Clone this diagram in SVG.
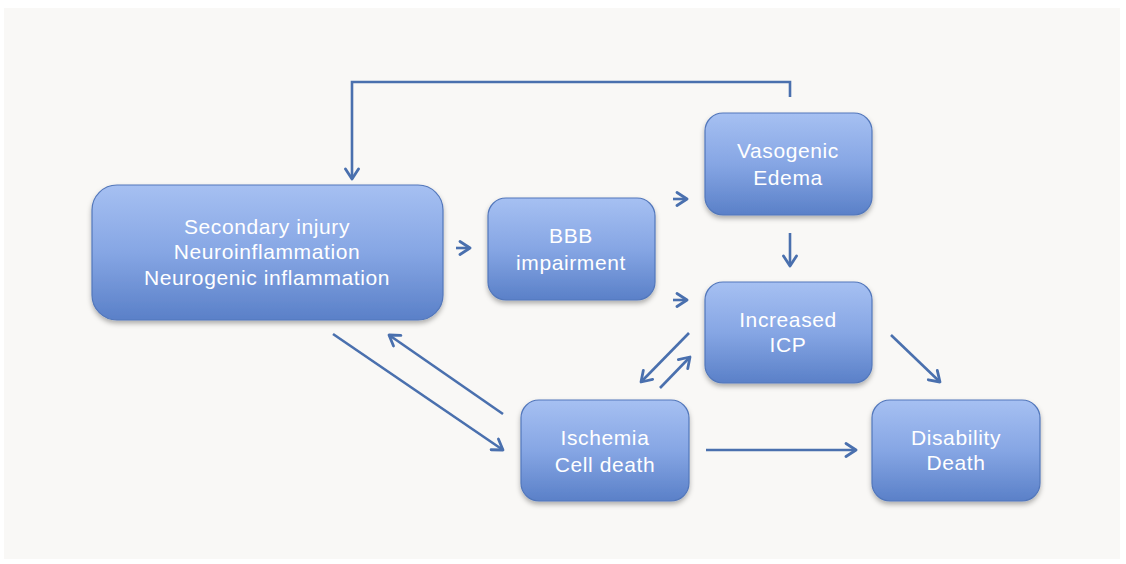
<svg xmlns="http://www.w3.org/2000/svg" width="1126" height="564" viewBox="0 0 1126 564">
<defs>
<linearGradient id="g" x1="0" y1="0" x2="0" y2="1">
<stop offset="0" stop-color="#a6c0f2"/>
<stop offset="0.5" stop-color="#86a6e4"/>
<stop offset="1" stop-color="#5a80c8"/>
</linearGradient>
<filter id="sh" x="-10%" y="-10%" width="120%" height="130%">
<feDropShadow dx="0" dy="3" stdDeviation="2.5" flood-color="#000" flood-opacity="0.3"/>
</filter>
<marker id="ah" viewBox="0 0 16 16" refX="13" refY="8" markerWidth="16" markerHeight="16" markerUnits="userSpaceOnUse" orient="auto">
<path d="M3,1.5 L13,8 L3,14.5" fill="none" stroke="#4a70ae" stroke-width="2.8" stroke-linecap="round" stroke-linejoin="round"/>
</marker>
<style>
.box{fill:url(#g);stroke:#5277bb;stroke-width:1.2;filter:url(#sh)}
.t{font-family:"Liberation Sans",Arial,sans-serif;font-size:21px;letter-spacing:0.6px;fill:#fff;text-anchor:middle}
.c{fill:none;stroke:#4a70ae;stroke-width:2.6;marker-end:url(#ah)}
</style>
</defs>
<rect x="0" y="0" width="1126" height="564" fill="#ffffff"/>
<rect x="4" y="8" width="1116" height="551" fill="#f9f8f6"/>
<g id="connectors">
<path class="c" d="M456,248 L470,248"/>
<path class="c" d="M673,199 L687,199"/>
<path class="c" d="M673,300 L687,300"/>
<path class="c" d="M790,97 V82 H352 V179"/>
<path class="c" d="M790,233 L790,266"/>
<path class="c" d="M891,335 L940,382"/>
<path class="c" d="M333,334 L503,450"/>
<path class="c" d="M503,414 L389,335"/>
<path class="c" d="M689,333 L641,382"/>
<path class="c" d="M660,388 L690,357"/>
<path class="c" d="M706,450 L856,450"/>
</g>
<g id="secondary">
<rect class="box" x="92" y="185" width="351" height="135" rx="25"/>
<text class="t" x="267" y="234">Secondary injury</text>
<text class="t" x="267" y="259">Neuroinflammation</text>
<text class="t" x="267" y="285">Neurogenic inflammation</text>
</g>
<g id="bbb">
<rect class="box" x="488" y="198" width="167" height="102" rx="18"/>
<text class="t" x="571" y="243">BBB</text>
<text class="t" x="571" y="270">impairment</text>
</g>
<g id="vasogenic">
<rect class="box" x="705" y="113" width="167" height="102" rx="18"/>
<text class="t" x="788" y="158">Vasogenic</text>
<text class="t" x="788" y="185">Edema</text>
</g>
<g id="icp">
<rect class="box" x="705" y="282" width="167" height="101" rx="18"/>
<text class="t" x="788" y="327">Increased</text>
<text class="t" x="788" y="352">ICP</text>
</g>
<g id="ischemia">
<rect class="box" x="521" y="400" width="168" height="101" rx="18"/>
<text class="t" x="605" y="445">Ischemia</text>
<text class="t" x="605" y="472">Cell death</text>
</g>
<g id="disability">
<rect class="box" x="872" y="400" width="168" height="101" rx="18"/>
<text class="t" x="956" y="445">Disability</text>
<text class="t" x="956" y="470">Death</text>
</g>
</svg>
